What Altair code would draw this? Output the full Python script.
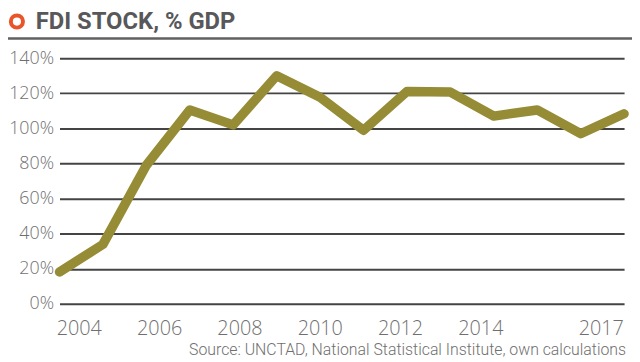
import altair as alt
import pandas as pd

# Data
years = list(range(2004, 2018))
fdi_stock_pct_gdp = [18.2, 33.9, 79.0, 110.5, 102.0, 130.0, 117.7, 98.9, 121.0, 120.7, 107.0, 110.5, 97.0, 108.3]
tick_years = [2004, 2006, 2008, 2010, 2012, 2014, 2017]
y_ticks = [0, 20, 40, 60, 80, 100, 120, 140]
title_text = "FDI STOCK, % GDP"
source_text = "Source: UNCTAD, National Statistical Institute, own calculations"

df = pd.DataFrame({"year": years, "value": fdi_stock_pct_gdp})
ticks_df = pd.DataFrame({"year": tick_years, "label": [str(y) for y in tick_years]})
one = pd.DataFrame({"a": [0]})

W, H = 570, 248
LINE_COLOR = "#968c35"
TEXT_GRAY = "#6f6f6f"

line = alt.Chart(df).mark_line(
    color=LINE_COLOR, strokeWidth=9.5, strokeCap="round", strokeJoin="round"
).encode(
    x=alt.X("year:Q", scale=alt.Scale(domain=[2004, 2017], nice=False, zero=False), axis=None),
    y=alt.Y(
        "value:Q",
        scale=alt.Scale(domain=[0, 140], nice=False),
        axis=alt.Axis(
            values=y_ticks, title=None, domain=False, ticks=False, grid=True,
            gridColor="#444444", gridWidth=2, gridOpacity=1,
            labelExpr="datum.value + '%'", labelFont="Open Sans", labelFontSize=18,
            labelFontWeight=300, labelColor=TEXT_GRAY, labelPadding=6,
        ),
    ),
)

xlabels = alt.Chart(ticks_df).mark_text(
    font="Open Sans", fontSize=20, fontWeight=300, color=TEXT_GRAY, baseline="middle", align="center"
).encode(
    x=alt.X("year:Q", scale=alt.Scale(domain=[2004, 2017], range=[20, 547], nice=False, zero=False), axis=None),
    y=alt.value(273),
    text="label:N",
)

circle = alt.Chart(one).mark_point(
    shape="circle", filled=False, color="#e8552b", strokeWidth=4, size=150, opacity=1
).encode(x=alt.value(-43), y=alt.value(-37))

title = alt.Chart(one).mark_text(
    text=title_text, font="Roboto", fontWeight="bold", fontSize=24,
    color="#58585a", align="left", baseline="middle"
).encode(x=alt.value(-24), y=alt.value(-36))

title_rule = alt.Chart(one).mark_rule(color="#606060", strokeWidth=2.5).encode(
    x=alt.value(-52), x2=alt.value(580), y=alt.value(-20)
)

source = alt.Chart(one).mark_text(
    text=source_text, font="Roboto", fontSize=16, fontWeight=300, color=TEXT_GRAY,
    align="right", baseline="alphabetic"
).encode(x=alt.value(572), y=alt.value(300))

chart = alt.layer(line, xlabels, circle, title, title_rule, source).resolve_scale(
    x="independent"
).properties(
    width=W, height=H,
    autosize=alt.AutoSizeParams(type="none"),
    padding={"left": 52, "top": 49, "right": 8, "bottom": 55},
).configure_view(stroke=None)

chart.save("out.html", embed_options={"renderer": "svg", "actions": False})
